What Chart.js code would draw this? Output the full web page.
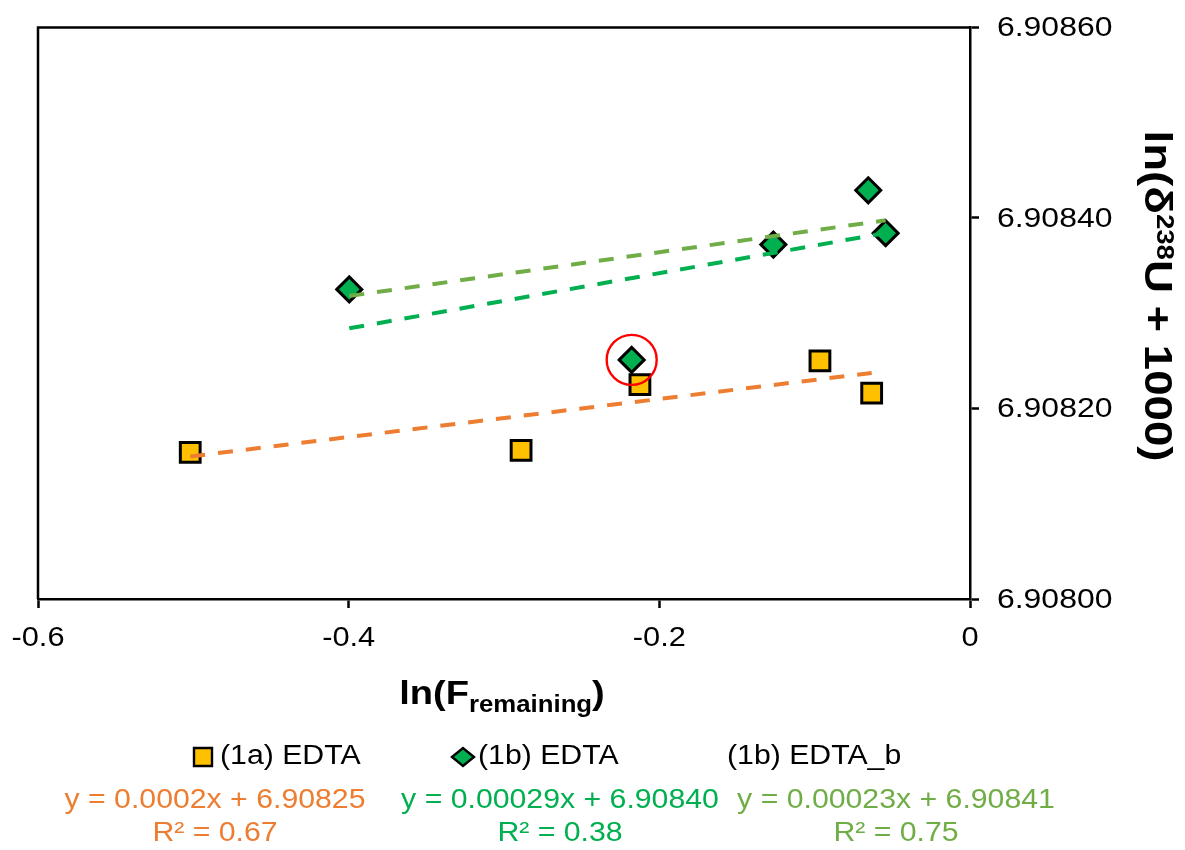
<!DOCTYPE html>
<html>
<head>
<meta charset="utf-8">
<script src="https://cdn.jsdelivr.net/npm/chart.js@4.4.0/dist/chart.umd.min.js"></script>
<style>
  html, body { margin: 0; padding: 0; background: #fff; }
  canvas { display: block; }
</style>
</head>
<body>
<canvas id="myChart" width="1185" height="850"></canvas>
<script>
// ln(F remaining) against ln(d238U + 1000), three EDTA series with linear trends
const edta1aX = [-0.502, -0.289, -0.2125, -0.0966, -0.0633];
const edta1aY = [6.908154, 6.908156, 6.908225, 6.908250, 6.908216];
const edta1bX = [-0.3996, -0.2178, -0.1266, -0.0655, -0.0543];
const edta1bY = [6.908325, 6.908251, 6.908372, 6.908429, 6.908384];
// 1b again, without the circled sample
const edta1bbX = [-0.3996, -0.1266, -0.0655, -0.0543];
const edta1bbY = [6.908325, 6.908372, 6.908429, 6.908384];
const flagged = 1;

const seriesNames = ["(1a) EDTA", "(1b) EDTA", "(1b) EDTA_b"];
const slopes = [0.0002, 0.00029, 0.00023];
const intercepts = [6.90825, 6.90840, 6.90841];
const slopeText = ["0.0002", "0.00029", "0.00023"];
const interceptText = ["6.90825", "6.90840", "6.90841"];
const r2Text = ["0.67", "0.38", "0.75"];

const xTickLabels = ["-0.6", "-0.4", "-0.2", "0"];
const yTickLabels = ["6.90800", "6.90820", "6.90840", "6.90860"];

const trendColors = ["#ED7D31", "#00B050", "#70AD47"];
const FONT = '"Liberation Sans", Arial, sans-serif';
const SX = 1.12;

function pts(xs, ys) {
    return xs.map((x, i) => ({ x: x, y: ys[i] }));
}

function trend(xs, i) {
    const lo = Math.min(...xs), hi = Math.max(...xs);
    return [lo, hi].map(x => ({ x: x, y: slopes[i] * x + intercepts[i] }));
}

// draws a row of text pieces, widened along the writing direction
function runs(ctx, parts, x, y, align, sx) {
    ctx.save();
    ctx.textAlign = "left";
    let total = 0;
    parts.forEach(p => {
        ctx.font = p.font;
        p.w = ctx.measureText(p.t).width * sx;
        total += p.w;
    });
    let cx = align === "center" ? x - total / 2 : align === "right" ? x - total : x;
    parts.forEach(p => {
        ctx.save();
        ctx.font = p.font;
        ctx.fillStyle = p.color || "#000";
        ctx.textBaseline = p.base || "middle";
        ctx.translate(cx, y + (p.dy || 0));
        ctx.scale(sx, 1);
        ctx.fillText(p.t, 0, 0);
        ctx.restore();
        cx += p.w;
    });
    ctx.restore();
}

function text(ctx, t, x, y, align, size, color) {
    runs(ctx, [{ t: t, font: size + "px " + FONT, color: color }], x, y, align, SX);
}

const decorations = {
    id: "decorations",
    afterDraw(chart) {
        const ctx = chart.ctx;
        const a = chart.chartArea;
        const xs = chart.scales.x, ys = chart.scales.y;

        // top and left frame lines
        ctx.save();
        ctx.strokeStyle = "#000";
        ctx.lineWidth = 2.5;
        ctx.beginPath();
        ctx.moveTo(a.left, a.bottom);
        ctx.lineTo(a.left, a.top);
        ctx.lineTo(a.right, a.top);
        ctx.stroke();
        ctx.restore();

        // tick labels
        xTickLabels.forEach(l => {
            text(ctx, l, xs.getPixelForValue(parseFloat(l)), 638, "center", 27.5, "#000");
        });
        yTickLabels.forEach(l => {
            text(ctx, l, a.right + 27, ys.getPixelForValue(parseFloat(l)) + 1, "left", 28.5, "#000");
        });

        // axis titles
        const bold = s => "bold " + s + "px " + FONT;
        runs(ctx, [
            { t: "ln(F", font: bold(34), base: "alphabetic" },
            { t: "remaining", font: bold(23), base: "alphabetic", dy: 8 },
            { t: ")", font: bold(34), base: "alphabetic" }
        ], 502, 704, "center", SX);

        ctx.save();
        ctx.translate(1155, 296);
        ctx.rotate(Math.PI / 2);
        runs(ctx, [
            { t: "ln(\u03B4", font: bold(38) },
            { t: "238", font: bold(23), dy: -8 },
            { t: "U + 1000)", font: bold(38) }
        ], 0, 0, "center", 1.2);
        ctx.restore();

        // legend
        const ly = 757;
        ctx.save();
        ctx.lineWidth = 2.4;
        ctx.strokeStyle = "#000";
        ctx.fillStyle = "#FFC000";
        ctx.beginPath();
        ctx.rect(194, ly - 9, 18, 18);
        ctx.fill();
        ctx.stroke();
        ctx.fillStyle = "#00B050";
        ctx.beginPath();
        ctx.moveTo(452, ly);
        ctx.lineTo(463, ly - 9);
        ctx.lineTo(474, ly);
        ctx.lineTo(463, ly + 9);
        ctx.closePath();
        ctx.fill();
        ctx.stroke();
        ctx.restore();
        text(ctx, seriesNames[0], 220, ly, "left", 27, "#000");
        text(ctx, seriesNames[1], 478, ly, "left", 27, "#000");
        text(ctx, seriesNames[2], 727, ly, "left", 27, "#000");

        // trend equations
        const eqX = [215, 560, 896];
        for (let i = 0; i < 3; i++) {
            text(ctx, "y = " + slopeText[i] + "x + " + interceptText[i], eqX[i], 801, "center", 27, trendColors[i]);
            text(ctx, "R\u00B2 = " + r2Text[i], eqX[i], 834, "center", 27, trendColors[i]);
        }
    }
};

const dashed = (i, xs) => ({
    label: seriesNames[i] + " trend",
    data: trend(xs, i),
    showLine: true,
    borderColor: trendColors[i],
    borderWidth: 4,
    borderDash: [15, 13],
    pointRadius: 0,
    order: 1
});

new Chart("myChart", {
    type: "scatter",
    data: {
        datasets: [
            {
                label: "flagged",
                data: [{ x: edta1bX[flagged], y: edta1bY[flagged] }],
                pointStyle: "circle",
                pointRadius: 25,
                backgroundColor: "rgba(0,0,0,0)",
                borderColor: "#FF0000",
                borderWidth: 2.4,
                order: 0
            },
            dashed(0, edta1aX),
            dashed(1, edta1bX),
            dashed(2, edta1bbX),
            {
                label: seriesNames[1],
                data: pts(edta1bX, edta1bY),
                pointStyle: "rectRot",
                pointRadius: 12.5,
                backgroundColor: "#00B050",
                borderColor: "#000",
                borderWidth: 3,
                order: 2
            },
            {
                label: seriesNames[2],
                data: pts(edta1bbX, edta1bbY),
                pointRadius: 0,
                order: 2
            },
            {
                label: seriesNames[0],
                data: pts(edta1aX, edta1aY),
                pointStyle: "rect",
                pointRadius: 14,
                backgroundColor: "#FFC000",
                borderColor: "#000",
                borderWidth: 3,
                order: 3
            }
        ]
    },
    options: {
        responsive: false,
        animation: false,
        layout: { padding: { left: 38, top: 24, right: 0, bottom: 0 } },
        plugins: { legend: { display: false }, tooltip: { enabled: false } },
        scales: {
            x: {
                type: "linear",
                position: "bottom",
                min: -0.6,
                max: 0,
                ticks: { display: false, stepSize: 0.2 },
                grid: { drawOnChartArea: false, drawTicks: true, tickLength: 9, tickWidth: 2.5, tickColor: "#000" },
                border: { display: true, color: "#000", width: 2.5 },
                afterFit: s => { s.height = 251; }
            },
            y: {
                type: "linear",
                position: "right",
                min: 6.908,
                max: 6.9086,
                ticks: { display: false, stepSize: 0.0002 },
                grid: { drawOnChartArea: false, drawTicks: true, tickLength: 9, tickWidth: 2.5, tickColor: "#000" },
                border: { display: true, color: "#000", width: 2.5 },
                afterFit: s => { s.width = 215; }
            }
        }
    },
    plugins: [decorations]
});
</script>
</body>
</html>
